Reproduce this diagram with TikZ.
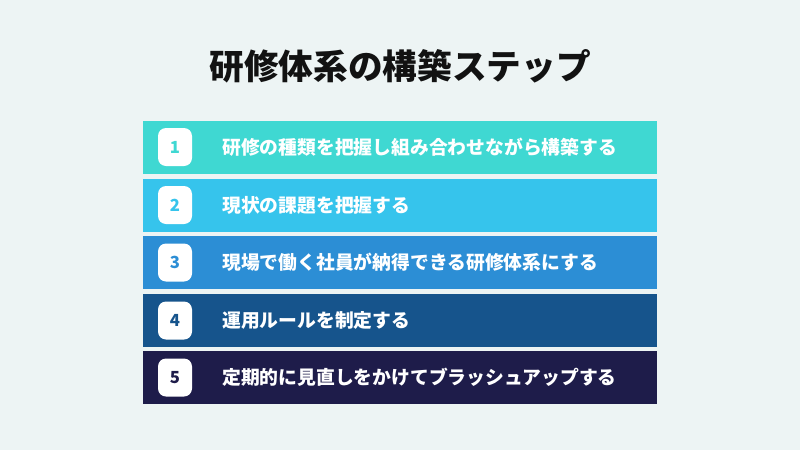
\documentclass[tikz,border=0pt]{standalone}
\usepackage{fontspec}
\newfontfamily\jp{Noto Sans CJK JP}
\definecolor{bgcol}{HTML}{EDF4F4}
\definecolor{stepone}{HTML}{3FD8D2}
\definecolor{steptwo}{HTML}{36C4EC}
\definecolor{stepthree}{HTML}{2C8ED5}
\definecolor{stepfour}{HTML}{16548C}
\definecolor{stepfive}{HTML}{1E1C4A}
\tikzset{
  bar/.style={minimum width=385.5pt, minimum height=39.75pt, inner sep=0pt},
  badge/.style={fill=white, rounded corners=6pt, minimum width=25.5pt, minimum height=28.5pt, inner sep=0pt, font=\jp\bfseries\fontsize{12.5}{12.5}\selectfont},
  label/.style={anchor=west, inner sep=0pt, text=white, font=\jp\bfseries\fontsize{14.1}{14}\selectfont}
}

\begin{document}
\begin{tikzpicture}[x=0.75pt,y=-0.75pt]
				\fill[bgcol] (0,0) rectangle (800,450);
				\useasboundingbox (0,0) rectangle (800,450);
				
				\node[inner sep=0pt, text=black!93, font=\jp\bfseries\fontsize{26}{26}\selectfont] (title) at (400,66) {研修体系の構築ステップ};
				
				\node[bar, fill=stepone] (bar1) at (400,147) {};
				\node[badge, text=stepone] (num1) at (175,147) {1};
				\node[label] (txt1) at (222,147) {研修の種類を把握し組み合わせながら構築する};
				
				\node[bar, fill=steptwo] (bar2) at (400,205) {};
				\node[badge, text=steptwo] (num2) at (175,205) {2};
				\node[label] (txt2) at (222,205) {現状の課題を把握する};
				
				\node[bar, fill=stepthree] (bar3) at (400,262.5) {};
				\node[badge, text=stepthree] (num3) at (175,262.5) {3};
				\node[label] (txt3) at (222,262.5) {現場で働く社員が納得できる研修体系にする};
				
				\node[bar, fill=stepfour] (bar4) at (400,320.5) {};
				\node[badge, text=stepfour] (num4) at (175,320.5) {4};
				\node[label] (txt4) at (222,320.5) {運用ルールを制定する};
				
				\node[bar, fill=stepfive] (bar5) at (400,377.5) {};
				\node[badge, text=stepfive] (num5) at (175,377.5) {5};
				\node[label] (txt5) at (222,377.5) {定期的に見直しをかけてブラッシュアップする};
			\end{tikzpicture}
\end{document}
